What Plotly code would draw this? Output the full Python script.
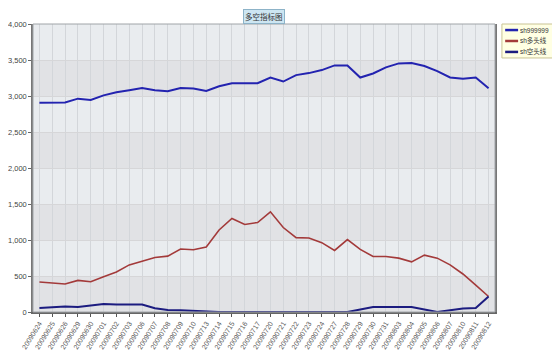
import plotly.graph_objects as go

dates = ["20090624", "20090625", "20090626", "20090629", "20090630", "20090701",
         "20090702", "20090703", "20090706", "20090707", "20090708", "20090709",
         "20090710", "20090713", "20090714", "20090715", "20090716", "20090717",
         "20090720", "20090721", "20090722", "20090723", "20090724", "20090727",
         "20090728", "20090729", "20090730", "20090731", "20090803", "20090804",
         "20090805", "20090806", "20090807", "20090810", "20090811", "20090812"]

sh999999 = [2907, 2907, 2911, 2963, 2944, 3009, 3051, 3080, 3112, 3080, 3065, 3112,
            3103, 3070, 3135, 3177, 3177, 3177, 3257, 3201, 3290, 3318, 3360, 3425,
            3425, 3257, 3313, 3397, 3453, 3458, 3416, 3346, 3257, 3238, 3257, 3107]

sh_long = [416, 397, 388, 439, 421, 491, 556, 654, 701, 757, 776, 874,
           864, 902, 1140, 1299, 1215, 1243, 1392, 1173, 1033, 1028, 963, 855,
           1005, 869, 771, 771, 748, 696, 790, 748, 654, 528, 374, 215]

sh_short = [56, 65, 75, 70, 93, 112, 103, 98, 103, 51, 28, 23,
            14, 0, 0, 0, 0, 0, 0, 0, 0, 0, 0, 0,
            0, 35, 70, 70, 70, 70, 35, 0, 25, 50, 55, 215]

series_names = ["sh999999", "sh多头线", "sh空头线"]
series_colors = ["#2323B0", "#A33A3A", "#1C1C80"]
series_widths = [2, 1.6, 2]
title_text = "多空指标图"

y_ticks = [0, 500, 1000, 1500, 2000, 2500, 3000, 3500, 4000]

FONT = "Liberation Sans, Arial, DejaVu Sans"
CJK = "Noto Sans CJK SC"

fig = go.Figure()
for name, vals, col, w in zip(series_names, [sh999999, sh_long, sh_short],
                              series_colors, series_widths):
    fig.add_trace(go.Scatter(x=dates, y=vals, mode="lines", name=name,
                             line=dict(color=col, width=w), showlegend=False))

# alternating horizontal bands
shapes = []
for i in range(len(y_ticks) - 1):
    shapes.append(dict(type="rect", xref="paper", yref="y", x0=0, x1=1,
                       y0=y_ticks[i], y1=y_ticks[i + 1], layer="below", line_width=0,
                       fillcolor="#E1E2E5" if i % 2 == 0 else "#E9ECEF"))

# manual legend
lx0, lx1, ly0, ly1 = 1.015, 1.133, 0.882, 1.0
shapes.append(dict(type="rect", xref="paper", yref="paper", x0=lx0, x1=lx1,
                   y0=ly0, y1=ly1, fillcolor="#FFFFE3", line=dict(color="#C9C394", width=1)))
annotations = []
item_y = [0.979, 0.941, 0.903]
for name, col, yy in zip(series_names, series_colors, item_y):
    shapes.append(dict(type="line", xref="paper", yref="paper", x0=1.022, x1=1.05,
                       y0=yy, y1=yy, line=dict(color=col, width=2.5)))
    annotations.append(dict(text=name, xref="paper", yref="paper", x=1.05, y=yy,
                            xanchor="left", yanchor="middle", showarrow=False,
                            font=dict(size=6.5, color="#333", family=FONT + ", " + CJK)))

annotations.append(dict(text=title_text, xref="paper", yref="paper", x=0.5, y=1.0,
                        xanchor="center", yanchor="bottom", showarrow=False,
                        font=dict(size=7.5, color="#333", family=CJK),
                        bgcolor="#CDE6F2", bordercolor="#8DB3C8", borderwidth=1,
                        borderpad=1))

# page body has an 8px margin, so the figure is sized to fit from (8,8)
fig.update_layout(
    width=552, height=356,
    margin=dict(l=25, r=65, t=16, b=52, autoexpand=False),
    paper_bgcolor="white", plot_bgcolor="#E9ECEF",
    shapes=shapes, annotations=annotations,
    font=dict(family=FONT, size=7, color="#444"),
)
fig.update_xaxes(type="category", showgrid=True, gridcolor="#D3D6DA", gridwidth=1,
                 tickangle=-58, tickfont=dict(size=7, color="#555", family=FONT),
                 ticks="outside", ticklen=3, tickcolor="#555",
                 showline=True, linecolor="#666", linewidth=1.5, mirror=False,
                 automargin=False,
                 range=[-0.5, len(dates) - 0.5], fixedrange=True)
fig.update_yaxes(range=[0, 4000], tickvals=y_ticks, tickformat=",",
                 showgrid=True, gridcolor="#D6D6D8", gridwidth=1,
                 tickfont=dict(size=7.5, color="#444", family=FONT),
                 ticks="outside", ticklen=3, tickcolor="#666",
                 showline=True, linecolor="#777", linewidth=1.5, mirror=True,
                 automargin=False,
                 zeroline=False, fixedrange=True)
# top/right border of plot
fig.add_shape(type="rect", xref="paper", yref="paper", x0=0, x1=1, y0=0, y1=1,
              line=dict(color="#A0A4A8", width=1), layer="above")

fig.write_html("out.html")
